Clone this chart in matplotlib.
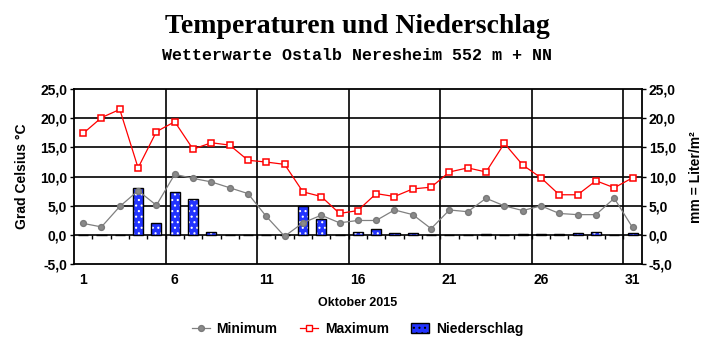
import numpy as np
import matplotlib
matplotlib.use("Agg")
import matplotlib.pyplot as pl
from matplotlib.patches import Patch
from matplotlib.lines import Line2D

# Oktober 2015, Wetterwarte Ostalb Neresheim
days = np.arange(1, 32)
t_min = [2.0, 1.4, 4.9, 7.6, 5.1, 10.4, 9.7, 9.1, 8.1, 7.1, 3.2,
         -0.2, 2.1, 3.4, 2.1, 2.5, 2.5, 4.3, 3.5, 1.1, 4.3,
         4.0, 6.3, 5.0, 4.2, 5.0, 3.7, 3.5, 3.5, 6.3, 1.3]
t_max = [17.4, 20.1, 21.5, 11.5, 17.7, 19.4, 14.7, 15.8, 15.4, 12.8, 12.5,
         12.1, 7.4, 6.6, 3.7, 4.2, 7.1, 6.6, 7.9, 8.2, 10.8,
         11.5, 10.8, 15.7, 12.0, 9.8, 6.9, 6.9, 9.3, 8.1, 9.8]
rain = [0.0, 0.0, 0.0, 8.0, 2.1, 7.4, 6.1, 0.5, 0.0, 0.0, 0.0,
        0.0, 4.95, 2.7, 0.1, 0.6, 1.0, 0.3, 0.3, 0.0, 0.0,
        0.0, 0.2, 0.0, 0.2, 0.2, 0.2, 0.4, 0.5, 0.0, 0.3]
y_ticks = [-5, 0, 5, 10, 15, 20, 25]
x_ticks = [1, 6, 11, 16, 21, 26, 31]

pl.rc("font", family=["Liberation Sans", "DejaVu Sans"], size=9, weight="bold")
pl.rc("axes", labelweight="bold")
pl.rc("hatch", color="white", linewidth=0.8)

fig = pl.figure(figsize=(7.15, 3.52), dpi=100)
ax = fig.add_axes([0.1035, 0.2491, 0.794, 0.4981])

# Niederschlag: blau gepunktete Balken mit schwarzem Rand
ax.bar(days, rain, width=0.55, color="#2233ff", edgecolor="white",
       hatch="...", linewidth=0, zorder=2)
ax.bar(days, rain, width=0.55, fill=False, edgecolor="black",
       linewidth=1.0, zorder=3)

ax.plot(days, t_min, color="#808080", lw=0.9, marker="o", ms=4.2,
        mfc="#8a8a8a", mec="#7a7a7a", zorder=4)
ax.plot(days, t_max, color="#ff0000", lw=0.9, marker="s", ms=4.8,
        mfc="white", mec="#ff0000", mew=1.1, zorder=5)

# Gitter
for y in y_ticks[1:-1]:
    ax.axhline(y, color="black", lw=1.2, zorder=1)
for x in np.array(x_ticks[1:]) - 0.5:
    ax.axvline(x, color="black", lw=1.2, zorder=1)
ax.vlines(days[:-1] + 0.5, -0.75, 0, color="black", lw=1.0, zorder=1)

ax.set_xlim(0.5, 31.5)
ax.set_ylim(-5, 25)
ax.set_xticks(x_ticks)
ax.set_yticks(y_ticks)
ax.set_yticklabels([f"{v:.1f}".replace(".", ",") for v in y_ticks])
ax.tick_params(axis="x", length=0, pad=6, labelsize=10)
ax.tick_params(axis="y", length=3, width=1, pad=2, labelsize=10,
               right=True, labelright=True)
for s in ax.spines.values():
    s.set_linewidth(1.3)

ax.set_ylabel("Grad Celsius °C", fontsize=10, labelpad=8)
fig.text(0.974, 0.498, "mm = Liter/m²", rotation=90, ha="center",
         va="center", fontsize=10)
fig.text(0.5, 0.138, "Oktober 2015", ha="center", va="center", fontsize=9)

fig.text(0.5, 0.925, "Temperaturen und Niederschlag", ha="center",
         va="center", family="Liberation Serif", fontsize=20, weight="bold")
fig.text(0.5, 0.843, "Wetterwarte Ostalb Neresheim 552 m + NN", ha="center",
         va="center", family="Liberation Mono", fontsize=12, weight="bold")

handles = [
    Line2D([], [], color="#808080", lw=0.9, marker="o", ms=4.2,
           mfc="#8a8a8a", mec="#7a7a7a"),
    Line2D([], [], color="#ff0000", lw=0.9, marker="s", ms=4.5,
           mfc="white", mec="#ff0000"),
    Patch(facecolor="#2233ff", edgecolor="black", hatch="..."),
]
fig.legend(handles, ["Minimum", "Maximum", "Niederschlag"], ncol=3,
           loc="center", bbox_to_anchor=(0.5, 0.065), frameon=False,
           fontsize=10, handlelength=1.3, columnspacing=1.6,
           handletextpad=0.5)

fig.savefig("out.png", dpi=100)
